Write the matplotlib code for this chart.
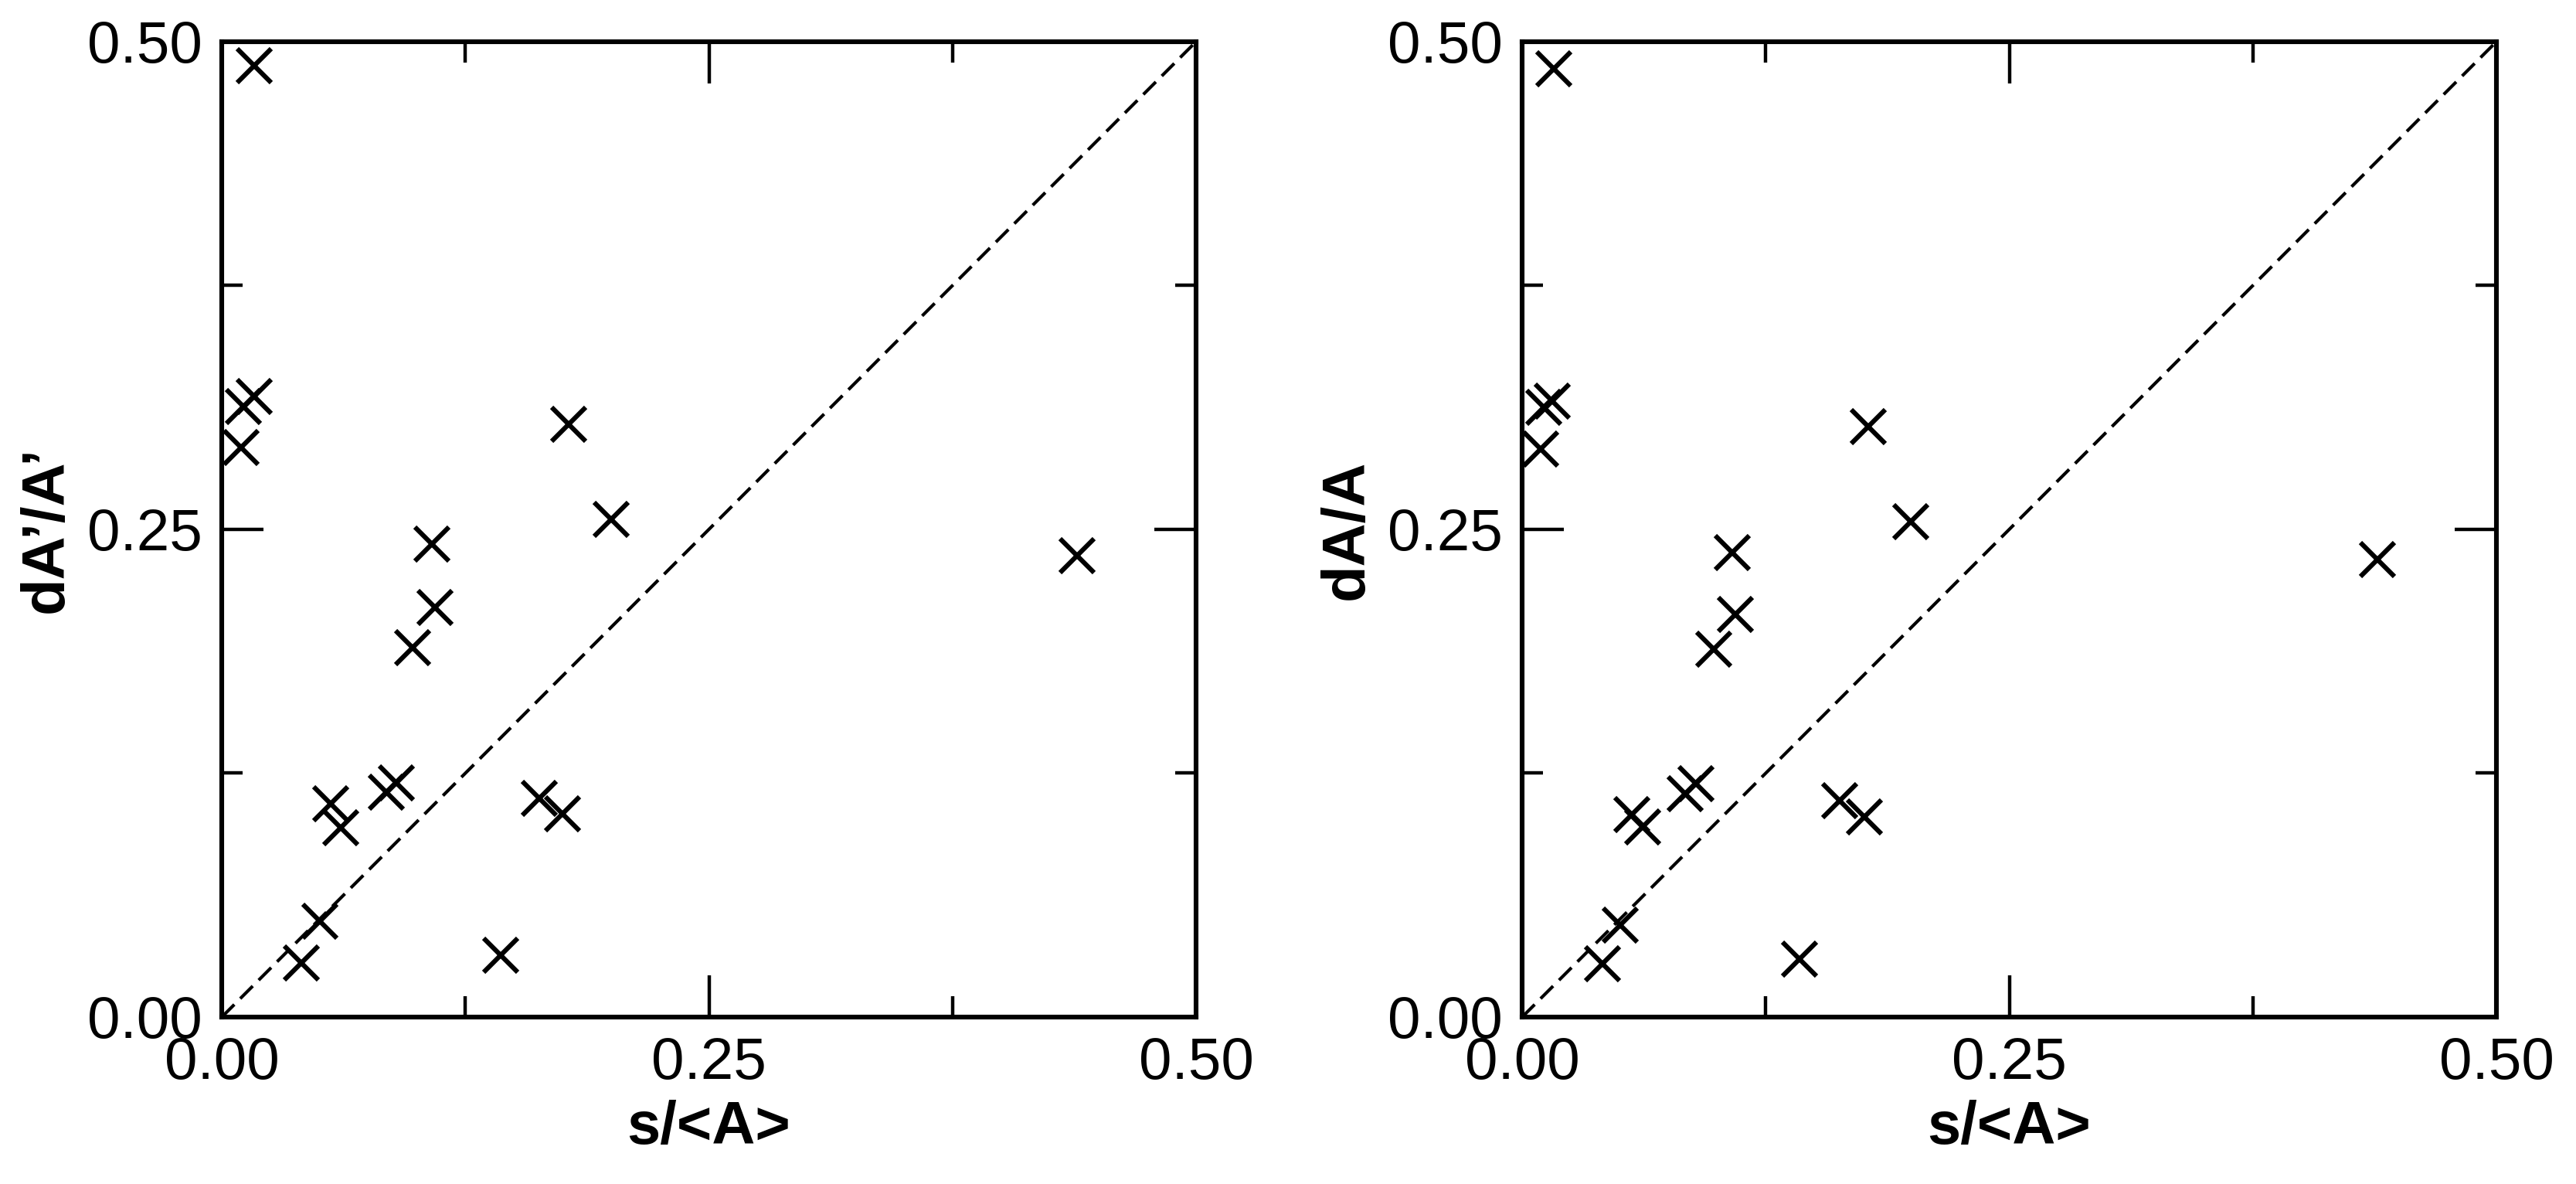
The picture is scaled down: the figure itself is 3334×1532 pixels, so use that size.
import matplotlib
matplotlib.use("Agg")
import matplotlib.pyplot as plt
import numpy as np

plt.rcParams["font.family"] = ["Liberation Sans", "DejaVu Sans"]

# left panel: s/<A> vs dA'/A'
s_left = [0.0167, 0.0110, 0.0165, 0.0099, 0.1780, 0.1997, 0.1080, 0.1096, 0.0980, 0.4390,
          0.0843, 0.0894, 0.0560, 0.0610, 0.1628, 0.1747, 0.1430, 0.0502, 0.0410]
dA_left = [0.4876, 0.3130, 0.3180, 0.2920, 0.3037, 0.2553, 0.2426, 0.2100, 0.1895, 0.2366,
           0.1153, 0.1199, 0.1093, 0.0969, 0.1121, 0.1040, 0.0315, 0.0492, 0.0279]

# right panel: s/<A> vs dA/A
s_right = [0.0164, 0.0112, 0.0153, 0.0095, 0.1776, 0.1994, 0.1077, 0.1094, 0.0982, 0.4390,
           0.0835, 0.0890, 0.0562, 0.0617, 0.1630, 0.1755, 0.1425, 0.0504, 0.0412]
dA_right = [0.4862, 0.3124, 0.3159, 0.2912, 0.3025, 0.2541, 0.2382, 0.2064, 0.1887, 0.2346,
            0.1145, 0.1198, 0.1039, 0.0975, 0.1110, 0.1028, 0.0297, 0.0473, 0.0272]

major_ticks = [0.0, 0.25, 0.5]
minor_ticks = [0.125, 0.375]
tick_labels = ["0.00", "0.25", "0.50"]

fig = plt.figure(figsize=(16.67, 7.66), dpi=200)
ax1 = fig.add_axes([0.0861, 0.141, 0.3782, 0.8238])
ax2 = fig.add_axes([0.5909, 0.141, 0.3782, 0.8238])


def panel(ax, xs, ys, ylabel):
    ax.plot([0, 0.5], [0, 0.5], color="black", lw=1.5, dashes=(5.5, 2.6))
    ax.plot(xs, ys, linestyle="none", marker="x", markersize=15.5,
            markeredgewidth=2.2, color="black", clip_on=False)
    ax.set_xlim(0, 0.5)
    ax.set_ylim(0, 0.5)
    ax.set_xticks(major_ticks)
    ax.set_xticklabels(tick_labels)
    ax.set_yticks(major_ticks)
    ax.set_yticklabels(tick_labels)
    ax.set_xticks(minor_ticks, minor=True)
    ax.set_yticks(minor_ticks, minor=True)
    ax.tick_params(which="both", direction="in", top=True, right=True,
                   width=1.6, labelsize=27.5, colors="black")
    ax.tick_params(which="major", length=19.5, pad=9)
    ax.tick_params(which="minor", length=9.7)
    for sp in ax.spines.values():
        sp.set_linewidth(2.2)
    ax.set_xlabel("s/<A>", fontsize=28, fontweight="bold", labelpad=4)
    ax.set_ylabel(ylabel, fontsize=28, fontweight="bold", labelpad=6)


panel(ax1, s_left, dA_left, "dA’/A’")
panel(ax2, s_right, dA_right, "dA/A")

fig.savefig("out.png", dpi=200, facecolor="white")
